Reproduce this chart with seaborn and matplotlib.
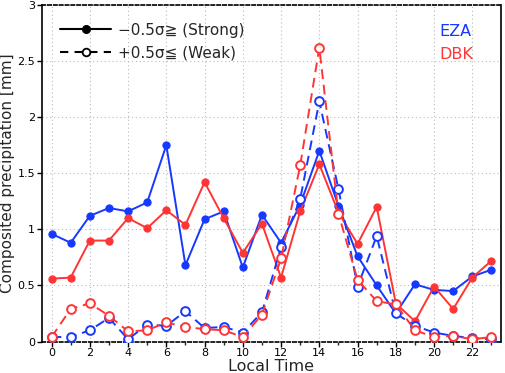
import numpy as np
import pandas as pd
import matplotlib
matplotlib.use("Agg")
import matplotlib.pyplot as plt
import seaborn as sns
from matplotlib.lines import Line2D
from matplotlib.ticker import MultipleLocator, FuncFormatter

hours = list(range(24))
eza_strong = [0.96, 0.88, 1.12, 1.19, 1.16, 1.24, 1.75, 0.68, 1.09, 1.16, 0.66, 1.13,
              0.88, 1.22, 1.70, 1.21, 0.76, 0.50, 0.25, 0.51, 0.46, 0.45, 0.58, 0.64]
dbk_strong = [0.56, 0.57, 0.90, 0.90, 1.10, 1.01, 1.17, 1.04, 1.42, 1.10, 0.79, 1.05,
              0.57, 1.16, 1.58, 1.15, 0.87, 1.20, 0.34, 0.18, 0.49, 0.29, 0.57, 0.72]
eza_weak = [0.04, 0.04, 0.10, 0.21, 0.02, 0.15, 0.14, 0.27, 0.12, 0.13, 0.08, 0.26,
            0.84, 1.27, 2.14, 1.36, 0.49, 0.94, 0.25, 0.14, 0.08, 0.05, 0.03, 0.02]
dbk_weak = [0.04, 0.29, 0.34, 0.23, 0.09, 0.10, 0.17, 0.13, 0.11, 0.10, 0.04, 0.24,
            0.74, 1.57, 2.62, 1.14, 0.55, 0.36, 0.33, 0.10, 0.04, 0.05, 0.02, 0.04]
legend_labels = ["\u22120.5\u03c3\u2267 (Strong)", "+0.5\u03c3\u2266 (Weak)"]
region_labels = ["EZA", "DBK"]

BLUE = "#1638ff"
RED = "#ff3434"

sns.set_theme(style="white")
plt.rcParams['font.family'] = ['DejaVu Sans', 'Noto Sans CJK JP']

fig = plt.figure(figsize=(5.05, 3.73), dpi=100)
ax = fig.add_axes([42/505, 1-341.5/373, (501-42)/505, (341.5-5)/373])

for vals, col in [(eza_strong, BLUE), (dbk_strong, RED)]:
    sns.lineplot(x=hours, y=vals, ax=ax, color=col, marker='o', markersize=5.2,
                 markeredgecolor=col, markerfacecolor=col, linewidth=1.4, zorder=3)
for vals, col in [(eza_weak, BLUE), (dbk_weak, RED)]:
    sns.lineplot(x=hours, y=vals, ax=ax, color=col, marker='o', markersize=6.3,
                 markeredgecolor=col, markerfacecolor='white', markeredgewidth=1.4,
                 linewidth=1.4, linestyle=(0, (5, 3)), zorder=4)

ax.set_xlim(-0.5, 23.5)
ax.set_ylim(0, 3)
ax.xaxis.set_major_locator(MultipleLocator(2))
ax.xaxis.set_minor_locator(MultipleLocator(1))
ax.yaxis.set_major_locator(MultipleLocator(0.5))
ax.yaxis.set_major_formatter(FuncFormatter(lambda v, p: f"{v:g}"))
ax.grid(True, which='major', color='#bbbbbb', linestyle=(0, (1, 2.5)), linewidth=0.8)
ax.tick_params(axis='both', which='major', direction='out', length=3.5, width=1,
               labelsize=8, colors='black', bottom=True, left=True, pad=1.5)
ax.tick_params(axis='x', which='minor', direction='out', length=2, width=1, bottom=True)
for s in ['left', 'right']:
    ax.spines[s].set_color('black')
    ax.spines[s].set_linewidth(1.2)
for s in ['top', 'bottom']:
    ax.spines[s].set_color('black')
    ax.spines[s].set_linewidth(1.2)
    ax.spines[s].set_linestyle((0, (2, 1.5)))

ax.set_xlabel("Local Time", fontsize=11.5)
ax.xaxis.set_label_coords(0.5, -0.052)
ax.xaxis.label.set_va('top')
ax.set_ylabel("Composited precipitation [mm]", fontsize=11)
ax.yaxis.set_label_coords(-0.058, 0.5)

handles = [Line2D([0], [0], color='black', marker='o', markersize=5.5, linewidth=1.5),
           Line2D([0], [0], color='black', marker='o', markersize=5.5, markerfacecolor='white',
                  markeredgewidth=1.3, linewidth=1.5, linestyle=(0, (4, 3)))]
ax.legend(handles, legend_labels, loc='upper left', frameon=False, fontsize=11,
          handlelength=3.3, handletextpad=0.5, labelspacing=0.5,
          bbox_to_anchor=(0.02, 0.975), borderaxespad=0.2)

ax.text(0.865, 0.909, region_labels[0], transform=ax.transAxes, color=BLUE, fontsize=11.5)
ax.text(0.865, 0.839, region_labels[1], transform=ax.transAxes, color=RED, fontsize=11.5)

fig.savefig("out.png", dpi=100)
